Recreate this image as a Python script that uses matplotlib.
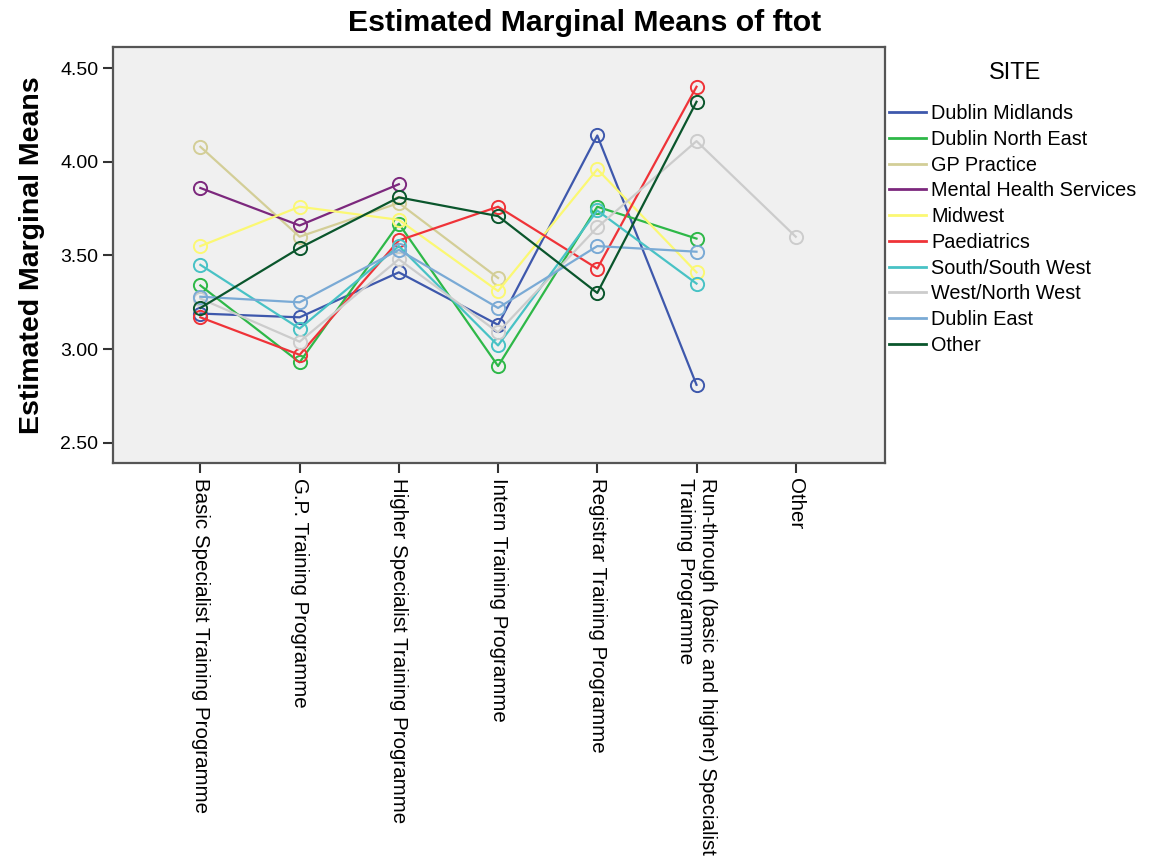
"""
Estimated marginal means of ftot by programme and site (SPSS style profile plot).
"""
import numpy as np
import matplotlib
matplotlib.use("Agg")
import matplotlib.pyplot as plt

plt.rcParams['font.family'] = ['Liberation Sans', 'DejaVu Sans']

programmes = [
    "Basic Specialist Training Programme",
    "G.P. Training Programme",
    "Higher Specialist Training Programme",
    "Intern Training Programme",
    "Registrar Training Programme",
    "Run-through (basic and higher) Specialist\nTraining Programme",
    "Other",
]

sites = [
    "Dublin Midlands", "Dublin North East", "GP Practice", "Mental Health Services",
    "Midwest", "Paediatrics", "South/South West", "West/North West",
    "Dublin East", "Other",
]

nan = np.nan
dublin_midlands = [3.19, 3.17, 3.41, 3.13, 4.14, 2.81, nan]
dublin_north_east = [3.34, 2.93, 3.67, 2.91, 3.76, 3.59, nan]
gp_practice = [4.08, 3.60, 3.78, 3.38, nan, nan, nan]
mental_health = [3.86, 3.66, 3.88, nan, nan, nan, nan]
midwest = [3.55, 3.76, 3.69, 3.31, 3.96, 3.41, nan]
paediatrics = [3.17, 2.97, 3.58, 3.76, 3.43, 4.40, nan]
south_south_west = [3.45, 3.11, 3.55, 3.02, 3.74, 3.35, nan]
west_north_west = [3.27, 3.04, 3.48, 3.09, 3.65, 4.11, 3.60]
dublin_east = [3.28, 3.25, 3.53, 3.22, 3.55, 3.52, nan]
other_site = [3.22, 3.54, 3.81, 3.71, 3.30, 4.32, nan]

series = [dublin_midlands, dublin_north_east, gp_practice, mental_health, midwest,
          paediatrics, south_south_west, west_north_west, dublin_east, other_site]

# SPSS default chart colours
colors = ['#3E58AC', '#2EB848', '#D3CE97', '#7C287D', '#FBF873',
          '#EF3338', '#48C2C5', '#CCCCCC', '#7AAAD5', '#0A562C']

fig = plt.figure(figsize=(11.5, 8.66), dpi=100)
ax = fig.add_axes([0.0983, 0.4654, 0.6713, 0.4803])
ax.set_facecolor('#F0F0F0')

x = np.arange(len(programmes))
for vals, col, name in zip(series, colors, sites):
    y = np.array(vals, dtype=float)
    ok = ~np.isnan(y)
    ax.plot(x[ok], y[ok], color=col, linewidth=1.6, marker='o', markersize=9.5,
            markerfacecolor='none', markeredgewidth=1.4, label=name)

ax.set_xlim(-0.88, 6.9)
ax.set_ylim(2.393, 4.612)
ax.set_yticks([2.5, 3.0, 3.5, 4.0, 4.5])
ax.set_yticklabels(["%.2f" % v for v in [2.5, 3.0, 3.5, 4.0, 4.5]], fontsize=14)
ax.set_xticks(x)
ax.set_xticklabels(programmes, rotation=-90, fontsize=14.8, va='top', ha='center',
                   multialignment='left')
ax.tick_params(axis='both', direction='out', length=7, width=1.5, color='#333333')

for sp in ax.spines.values():
    sp.set_color('#555555')
    sp.set_linewidth(1.6)

ax.set_ylabel("Estimated Marginal Means", fontsize=20.5, fontweight='bold', labelpad=11)
fig.text(0.508, 0.974, "Estimated Marginal Means of ftot", fontsize=21.8,
         fontweight='bold', ha='center', va='center')

# legend title drawn on its own so the gap above the entries matches
fig.text(1015 / 1150, 1 - 73 / 866, "SITE", fontsize=17, ha='center', va='center')
leg = ax.legend(loc='upper left', bbox_to_anchor=(0.995, 0.882), frameon=False,
                fontsize=14.3, handlelength=1.85, handletextpad=0.26,
                labelspacing=0.34, borderaxespad=0)
for h in leg.get_lines():
    h.set_marker('')
    h.set_linewidth(2)

fig.savefig("out.png", dpi=100)
